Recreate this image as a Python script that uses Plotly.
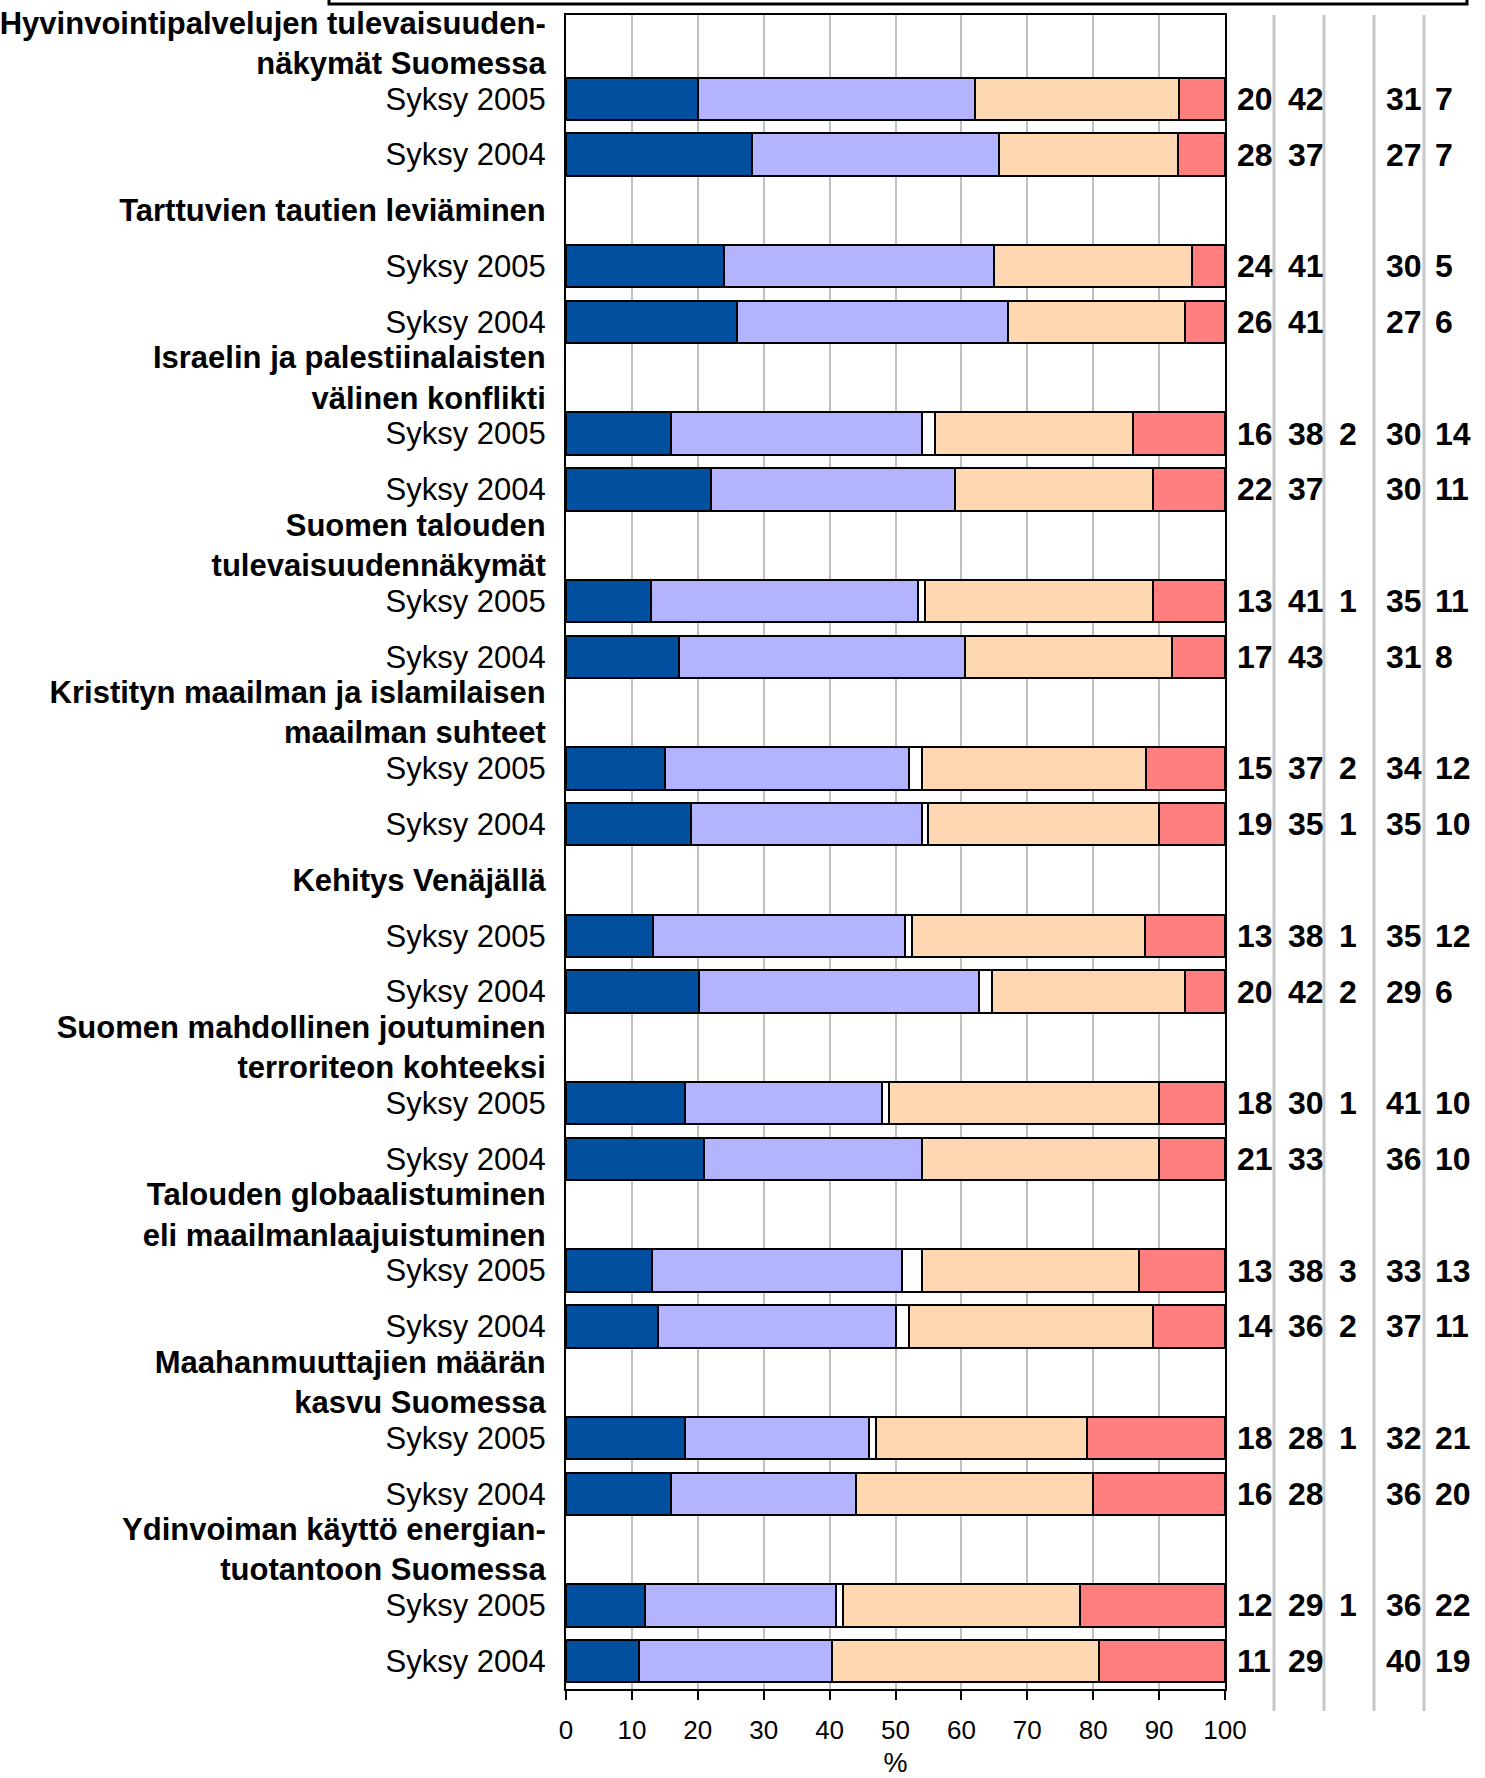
import plotly.graph_objects as go

# topics (line breaks as in the original), two survey rounds each
topics = [
    ["Hyvinvointipalvelujen tulevaisuuden-", "näkymät Suomessa"],
    ["Tarttuvien tautien leviäminen"],
    ["Israelin ja palestiinalaisten", "välinen konflikti"],
    ["Suomen talouden", "tulevaisuudennäkymät"],
    ["Kristityn maailman ja islamilaisen", "maailman suhteet"],
    ["Kehitys Venäjällä"],
    ["Suomen mahdollinen joutuminen", "terroriteon kohteeksi"],
    ["Talouden globaalistuminen", "eli maailmanlaajuistuminen"],
    ["Maahanmuuttajien määrän", "kasvu Suomessa"],
    ["Ydinvoiman käyttö energian-", "tuotantoon Suomessa"],
]
periods = ["Syksy 2005", "Syksy 2004"]

# one value per row: topic by topic, Syksy 2005 then Syksy 2004
s1 = [20, 28, 24, 26, 16, 22, 13, 17, 15, 19, 13, 20, 18, 21, 13, 14, 18, 16, 12, 11]
s2 = [42, 37, 41, 41, 38, 37, 41, 43, 37, 35, 38, 42, 30, 33, 38, 36, 28, 28, 29, 29]
s3 = [0, 0, 0, 0, 2, 0, 1, 0, 2, 1, 1, 2, 1, 0, 3, 2, 1, 0, 1, 0]
s4 = [31, 27, 30, 27, 30, 30, 35, 31, 34, 35, 35, 29, 41, 36, 33, 37, 32, 36, 36, 40]
s5 = [7, 7, 5, 6, 14, 11, 11, 8, 12, 10, 12, 6, 10, 10, 13, 11, 21, 20, 22, 19]

series = [s1, s2, s3, s4, s5]
colors = ['#00509f', '#b3b3ff', '#ffffff', '#ffd7b1', '#ff7f7f']

# category slots: title row, then one row per period
cats, ticktext, rows = [], [], []
for i, t in enumerate(topics):
    cats.append('t%d' % i)
    ticktext.append('<br>'.join('<b>%s</b>' % l for l in t))
    for p in periods:
        cats.append('t%d_%s' % (i, p))
        ticktext.append(p)
        rows.append('t%d_%s' % (i, p))

W, H = 1485, 1778
L, R, T, B = 566, 1225, 15, 1689


def px(x):
    return (x - L) / (R - L)


def py(y):
    return (B - y) / (B - T)


fig = go.Figure()
for vals, c in zip(series, colors):
    fig.add_trace(go.Bar(x=vals, y=rows, orientation='h', marker_color=c,
                         marker_line=dict(color='black', width=2), showlegend=False))

# value columns on the right
col_x = [1235, 1286, 1337, 1384, 1433]
for vals, cx in zip(series, col_x):
    for r, v in zip(rows, vals):
        if v:
            fig.add_annotation(x=px(cx), xref='paper', y=r, yref='y', text='<b>%d</b>' % v,
                               showarrow=False, xanchor='left',
                               font=dict(size=32, color='black', family='Liberation Sans, Arial'))

for sx in [1274, 1324, 1374, 1424]:
    fig.add_shape(type='line', xref='paper', yref='paper', x0=px(sx), x1=px(sx),
                  y0=py(1711), y1=1, line=dict(color='#c8c8c8', width=3))

# cut-off legend box at the top
fig.add_shape(type='rect', xref='paper', yref='paper', x0=px(329), x1=px(1467),
              y0=py(4), y1=py(-40), line=dict(color='black', width=3), fillcolor='rgba(0,0,0,0)')

fig.update_layout(
    width=W, height=H,
    margin=dict(l=L, r=W - R, t=T, b=H - B),
    barmode='stack', barnorm='percent', bargap=0.24,
    plot_bgcolor='white', paper_bgcolor='white',
    font=dict(family='Liberation Sans, Arial', color='black'),
)
fig.update_xaxes(range=[0, 100], dtick=10, showgrid=True, gridcolor='#c0c0c0', gridwidth=2,
                 ticks='outside', ticklen=9, tickwidth=2, tickcolor='black',
                 tickfont=dict(size=26), showline=True, linecolor='black', linewidth=2,
                 mirror=True, zeroline=False, automargin=False, ticklabelstandoff=8,
                 title=dict(text='%', font=dict(size=27), standoff=16))
fig.update_yaxes(type='category', categoryorder='array', categoryarray=cats,
                 range=[len(cats) - 0.5, -0.5], tickvals=cats, ticktext=ticktext,
                 tickfont=dict(size=31), showline=True, linecolor='black', linewidth=2,
                 mirror=True, showgrid=False, ticks='', ticklabelstandoff=12, automargin=False)

fig.write_html("out.html", config={'displayModeBar': False},
               post_script="document.body.style.margin='0';")
